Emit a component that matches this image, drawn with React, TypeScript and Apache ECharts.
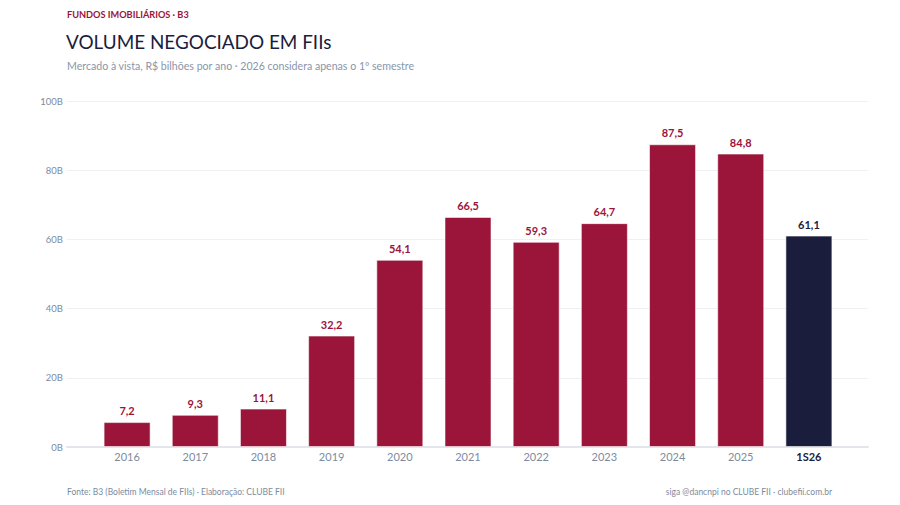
import { useEffect, useRef } from 'react';
import * as echarts from 'echarts';

const categories = ['2016', '2017', '2018', '2019', '2020', '2021', '2022', '2023', '2024', '2025', '1S26'];
const volumes = [7.2, 9.3, 11.1, 32.2, 54.1, 66.5, 59.3, 64.7, 87.5, 84.8, 61.1];
const yTicks = [0, 20, 40, 60, 80, 100];

const CRIMSON = '#9B143A';
const NAVY = '#1B1D3C';
const GRAY = '#7D8BA0';
const FONT = 'Lato, "Noto Sans", sans-serif';

export default function App() {
  const ref = useRef<HTMLDivElement | null>(null);

  useEffect(() => {
    if (!ref.current) return;
    const chart = echarts.init(ref.current, undefined, { renderer: 'svg' });
    const last = categories.length - 1;

    chart.setOption({
      animation: false,
      backgroundColor: '#ffffff',
      textStyle: { fontFamily: FONT },
      graphic: [
        {
          type: 'text', left: 67, top: 10,
          style: { text: 'FUNDOS IMOBILIÁRIOS · B3', fill: CRIMSON, font: `bold 9.2px ${FONT}` },
        },
        {
          type: 'text', left: 66, top: 32,
          style: { text: 'VOLUME NEGOCIADO EM FIIs', fill: NAVY, font: `18.9px ${FONT}` },
        },
        {
          type: 'text', left: 67, top: 60,
          style: { text: 'Mercado à vista, R$ bilhões por ano · 2026 considera apenas o 1º semestre', fill: '#8B95A7', font: `10.6px ${FONT}` },
        },
        {
          type: 'text', left: 67, top: 487,
          style: { text: 'Fonte: B3 (Boletim Mensal de FIIs) · Elaboração: CLUBE FII', fill: GRAY, font: `8.5px ${FONT}` },
        },
        {
          type: 'text', right: 68, top: 487,
          style: { text: 'siga @dancnpi no CLUBE FII · clubefii.com.br', fill: GRAY, font: `8.5px ${FONT}` },
        },
      ],
      grid: [
        { left: 67, right: 32, top: 101, bottom: 58 },
        { left: 93, right: 57, top: 101, bottom: 58 },
      ],
      xAxis: [
        {
          gridIndex: 0, type: 'value', min: 0, max: 1,
          axisLabel: { show: false }, axisTick: { show: false }, splitLine: { show: false },
          axisLine: { show: true, lineStyle: { color: '#E4E6EB', width: 2 } },
        },
        {
          gridIndex: 1, type: 'category', data: categories,
          axisLine: { show: false }, axisTick: { show: false },
          axisLabel: {
            margin: 4,
            fontSize: 11,
            fontFamily: FONT,
            formatter: (v: string) => (v === categories[last] ? `{b|${v}}` : `{n|${v}}`),
            rich: {
              n: { color: GRAY, fontSize: 11, fontFamily: FONT },
              b: { color: NAVY, fontSize: 11, fontWeight: 'bold', fontFamily: FONT },
            },
          },
        },
      ],
      yAxis: [
        {
          gridIndex: 0, type: 'value', min: 0, max: 100, interval: 20,
          axisLine: { show: false }, axisTick: { show: false },
          axisLabel: {
            color: GRAY, fontSize: 9.5, fontFamily: FONT, margin: 4,
            formatter: (v: number) => (yTicks.includes(v) ? `${v}B` : ''),
          },
          splitLine: { lineStyle: { color: '#EEF0F3', width: 1 } },
        },
        { gridIndex: 1, type: 'value', min: 0, max: 100, show: false },
      ],
      series: [
        {
          type: 'bar',
          xAxisIndex: 1,
          yAxisIndex: 1,
          barWidth: 47,
          data: volumes.map((v, i) => ({
            value: v,
            itemStyle: { color: i === last ? NAVY : CRIMSON },
            label: { color: i === last ? NAVY : CRIMSON },
          })),
          itemStyle: { borderColor: 'rgba(255,255,255,0.55)', borderWidth: 1 },
          label: {
            show: true,
            position: 'top',
            distance: 6,
            fontSize: 11,
            fontWeight: 'bold',
            fontFamily: FONT,
            formatter: (p: any) => String(p.value).replace('.', ','),
          },
        },
      ],
    });

    return () => chart.dispose();
  }, []);

  return <div ref={ref} style={{ position: 'fixed', left: 0, top: 0, width: 900, height: 505 }} />;
}
